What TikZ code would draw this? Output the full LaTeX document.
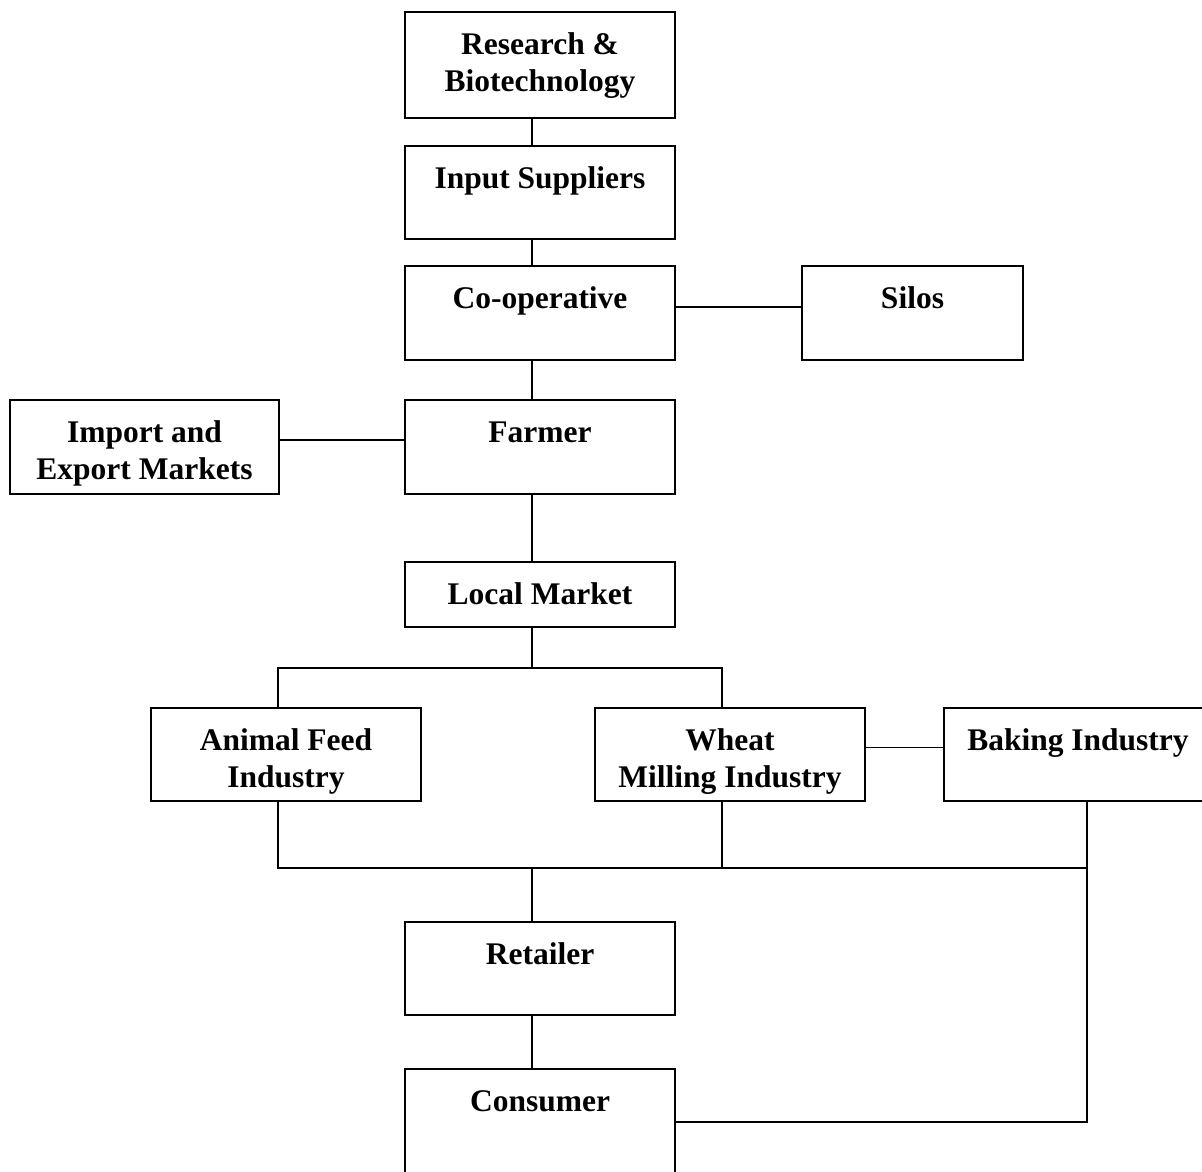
\documentclass[tikz,border=0pt]{standalone}
\usepackage{fontspec}
\setmainfont{Liberation Serif}
\begin{document}
\begin{tikzpicture}[x=1pt,y=-1pt,
  box/.style={draw, line width=1.8pt, inner sep=0pt, outer sep=0pt, anchor=north west},
  lbl/.style={anchor=north, inner sep=0pt, align=center, font=\fontsize{31.5}{37}\selectfont\bfseries},
  conn/.style={line width=1.8pt}]
\useasboundingbox (0,0) rectangle (1202,1172);
\clip (0,0) rectangle (1202,1172);
% boxes
\node[box, minimum width=270pt, minimum height=106pt] (research) at (405,12) {};
\node[box, minimum width=270pt, minimum height=93pt] (input) at (405,146) {};
\node[box, minimum width=270pt, minimum height=94pt] (coop) at (405,266) {};
\node[box, minimum width=221pt, minimum height=94pt] (silos) at (802,266) {};
\node[box, minimum width=270pt, minimum height=94pt] (farmer) at (405,400) {};
\node[box, minimum width=269pt, minimum height=94pt] (import) at (10,400) {};
\node[box, minimum width=270pt, minimum height=65pt] (local) at (405,562) {};
\node[box, minimum width=270pt, minimum height=93pt] (animal) at (151,708) {};
\node[box, minimum width=270pt, minimum height=93pt] (wheat) at (595,708) {};
\node[box, minimum width=268pt, minimum height=93pt] (baking) at (944,708) {};
\node[box, minimum width=270pt, minimum height=93pt] (retailer) at (405,922) {};
\node[box, minimum width=270pt, minimum height=106pt] (consumer) at (405,1069) {};
% labels
\node[lbl] (tresearch) at ([yshift=-16pt]research.north) {\strut Research \&\\Biotechnology};
\node[lbl] (tinput) at ([yshift=-16pt]input.north) {\strut Input Suppliers};
\node[lbl] (tcoop) at ([yshift=-16pt]coop.north) {\strut Co-operative};
\node[lbl] (tsilos) at ([yshift=-16pt]silos.north) {\strut Silos};
\node[lbl] (tfarmer) at ([yshift=-16pt]farmer.north) {\strut Farmer};
\node[lbl] (timport) at ([yshift=-16pt]import.north) {\strut Import and\\Export Markets};
\node[lbl] (tlocal) at ([yshift=-16pt]local.north) {\strut Local Market};
\node[lbl] (tanimal) at ([yshift=-16pt]animal.north) {\strut Animal Feed\\Industry};
\node[lbl] (twheat) at ([yshift=-16pt]wheat.north) {\strut Wheat\\Milling Industry};
\node[lbl] (tbaking) at ([yshift=-16pt]baking.north) {\strut Baking Industry};
\node[lbl] (tretailer) at ([yshift=-16pt]retailer.north) {\strut Retailer};
\node[lbl] (tconsumer) at ([yshift=-16pt]consumer.north) {\strut Consumer};
% helper coordinates
\coordinate (spine) at (532,0);
\coordinate (split) at (532,668);
\coordinate (brL) at (278,668);
\coordinate (brR) at (722,668);
\coordinate (jL) at (278,868);
\coordinate (jM) at (722,868);
\coordinate (jC) at (532,868);
\coordinate (jR) at (1087,868);
% connectors
\draw[conn] (research.south -| spine) -- (input.north -| spine);
\draw[conn] (input.south -| spine) -- (coop.north -| spine);
\draw[conn] (coop.south -| spine) -- (farmer.north -| spine);
\draw[conn] (farmer.south -| spine) -- (local.north -| spine);
\draw[conn] ([yshift=6pt]coop.east) -- ([yshift=6pt]silos.west);
\draw[conn] ([yshift=7pt]import.east) -- ([yshift=7pt]farmer.west);
\draw[conn] (local.south -| split) -- (split);
\draw[conn] (animal.north -| brL) -- (brL) -- (brR) -- (wheat.north -| brR);
\draw[conn] ([yshift=7pt]wheat.east) -- ([yshift=7pt]baking.west);
\draw[conn] (animal.south -| jL) -- (jL) -- (jR) -- (baking.south -| jR);
\draw[conn] (wheat.south -| jM) -- (jM);
\draw[conn] (jC) -- (retailer.north -| jC);
\draw[conn] (retailer.south -| spine) -- (consumer.north -| spine);
\draw[conn] (jR) -- (jR |- consumer.east) -- (consumer.east);
\end{tikzpicture}
\end{document}
